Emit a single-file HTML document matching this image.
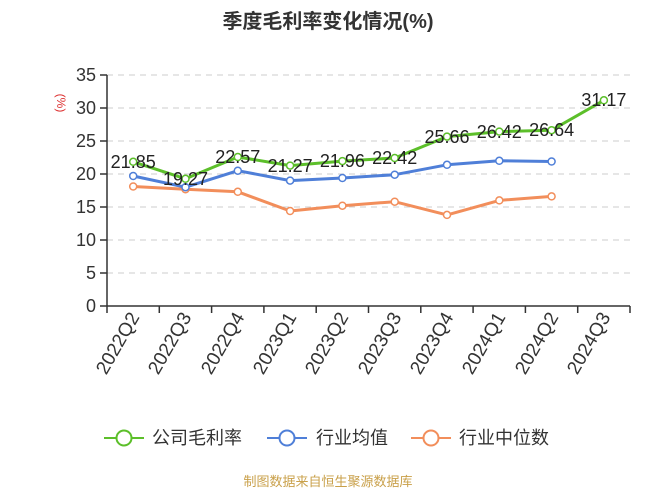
<!DOCTYPE html>
<html><head><meta charset="utf-8"><style>
body{margin:0;background:#fff;}
svg{display:block;font-family:"Liberation Sans","Noto Sans CJK SC",sans-serif;}
</style></head><body>
<svg width="657" height="491" viewBox="0 0 657 491" xmlns="http://www.w3.org/2000/svg">
<text x="328" y="28" text-anchor="middle" font-size="20" font-weight="bold" fill="#333">季度毛利率变化情况(%)</text>
<text x="57" y="103" font-size="12" fill="#d33" transform="rotate(90 57 103)" text-anchor="middle">(%)</text>
<g stroke="#ccc" stroke-dasharray="6,5" stroke-width="1">
<line x1="107" x2="630" y1="273" y2="273"/><line x1="107" x2="630" y1="240" y2="240"/><line x1="107" x2="630" y1="207" y2="207"/><line x1="107" x2="630" y1="174" y2="174"/><line x1="107" x2="630" y1="141" y2="141"/><line x1="107" x2="630" y1="108" y2="108"/><line x1="107" x2="630" y1="75" y2="75"/>
</g>
<g stroke="#333" stroke-width="1.5">
<line x1="107" y1="75" x2="107" y2="306"/><line x1="107" y1="306" x2="630" y2="306"/>
<line x1="100" x2="107" y1="306" y2="306"/><line x1="100" x2="107" y1="273" y2="273"/><line x1="100" x2="107" y1="240" y2="240"/><line x1="100" x2="107" y1="207" y2="207"/><line x1="100" x2="107" y1="174" y2="174"/><line x1="100" x2="107" y1="141" y2="141"/><line x1="100" x2="107" y1="108" y2="108"/><line x1="100" x2="107" y1="75" y2="75"/>
<line x1="107" x2="107" y1="306" y2="313"/><line x1="159.3" x2="159.3" y1="306" y2="313"/><line x1="211.6" x2="211.6" y1="306" y2="313"/><line x1="263.9" x2="263.9" y1="306" y2="313"/><line x1="316.2" x2="316.2" y1="306" y2="313"/><line x1="368.5" x2="368.5" y1="306" y2="313"/><line x1="420.8" x2="420.8" y1="306" y2="313"/><line x1="473.1" x2="473.1" y1="306" y2="313"/><line x1="525.4" x2="525.4" y1="306" y2="313"/><line x1="577.7" x2="577.7" y1="306" y2="313"/><line x1="630" x2="630" y1="306" y2="313"/>
</g>
<g font-size="18" fill="#333" text-anchor="end">
<text x="96" y="312">0</text><text x="96" y="279">5</text><text x="96" y="246">10</text><text x="96" y="213">15</text><text x="96" y="180">20</text><text x="96" y="147">25</text><text x="96" y="114">30</text><text x="96" y="81">35</text>
</g>
<g font-size="19" fill="#333" text-anchor="end">
<text transform="translate(140 317) rotate(-60)">2022Q2</text>
<text transform="translate(192 317) rotate(-60)">2022Q3</text>
<text transform="translate(245 317) rotate(-60)">2022Q4</text>
<text transform="translate(297 317) rotate(-60)">2023Q1</text>
<text transform="translate(349 317) rotate(-60)">2023Q2</text>
<text transform="translate(402 317) rotate(-60)">2023Q3</text>
<text transform="translate(454 317) rotate(-60)">2023Q4</text>
<text transform="translate(506 317) rotate(-60)">2024Q1</text>
<text transform="translate(559 317) rotate(-60)">2024Q2</text>
<text transform="translate(611 317) rotate(-60)">2024Q3</text>
</g>
<g fill="none" stroke-width="3" stroke-linejoin="round">
<polyline stroke="#f28e5b" points="133.2,186.5 185.5,189.2 237.8,191.8 290.1,211 342.4,205.7 394.7,201.7 447,214.9 499.3,200.4 551.6,196.4"/>
<polyline stroke="#4f7fd8" points="133.2,176 185.5,187.2 237.8,170.7 290.1,180.6 342.4,178 394.7,174.7 447,164.8 499.3,160.8 551.6,161.5"/>
<polyline stroke="#5cbf2a" points="133.2,161.8 185.5,178.8 237.8,157 290.1,165.6 342.4,161.1 394.7,158 447,136.6 499.3,131.6 551.6,130.2 603.9,100.3"/>
</g>
<g fill="#fff" stroke-width="1.5">
<g stroke="#f28e5b"><circle cx="133.2" cy="186.5" r="3.5"/><circle cx="185.5" cy="189.2" r="3.5"/><circle cx="237.8" cy="191.8" r="3.5"/><circle cx="290.1" cy="211" r="3.5"/><circle cx="342.4" cy="205.7" r="3.5"/><circle cx="394.7" cy="201.7" r="3.5"/><circle cx="447" cy="214.9" r="3.5"/><circle cx="499.3" cy="200.4" r="3.5"/><circle cx="551.6" cy="196.4" r="3.5"/></g>
<g stroke="#4f7fd8"><circle cx="133.2" cy="176" r="3.5"/><circle cx="185.5" cy="187.2" r="3.5"/><circle cx="237.8" cy="170.7" r="3.5"/><circle cx="290.1" cy="180.6" r="3.5"/><circle cx="342.4" cy="178" r="3.5"/><circle cx="394.7" cy="174.7" r="3.5"/><circle cx="447" cy="164.8" r="3.5"/><circle cx="499.3" cy="160.8" r="3.5"/><circle cx="551.6" cy="161.5" r="3.5"/></g>
<g stroke="#5cbf2a"><circle cx="133.2" cy="161.8" r="3.5"/><circle cx="185.5" cy="178.8" r="3.5"/><circle cx="237.8" cy="157" r="3.5"/><circle cx="290.1" cy="165.6" r="3.5"/><circle cx="342.4" cy="161.1" r="3.5"/><circle cx="394.7" cy="158" r="3.5"/><circle cx="447" cy="136.6" r="3.5"/><circle cx="499.3" cy="131.6" r="3.5"/><circle cx="551.6" cy="130.2" r="3.5"/><circle cx="603.9" cy="100.3" r="3.5"/></g>
</g>
<g font-size="18" fill="#222" text-anchor="middle">
<text x="133.2" y="168">21.85</text><text x="185.5" y="185">19.27</text><text x="237.8" y="163">22.57</text><text x="290.1" y="172">21.27</text><text x="342.4" y="167">21.96</text><text x="394.7" y="164">22.42</text><text x="447" y="143">25.66</text><text x="499.3" y="138">26.42</text><text x="551.6" y="136">26.64</text><text x="603.9" y="106">31.17</text>
</g>
<g stroke-width="2" fill="#fff">
<line x1="104" x2="144" y1="438" y2="438" stroke="#5cbf2a"/><circle cx="124" cy="438" r="7.5" stroke="#5cbf2a"/>
<line x1="267" x2="307" y1="438" y2="438" stroke="#4f7fd8"/><circle cx="287" cy="438" r="7.5" stroke="#4f7fd8"/>
<line x1="411" x2="451" y1="438" y2="438" stroke="#f28e5b"/><circle cx="431" cy="438" r="7.5" stroke="#f28e5b"/>
</g>
<g font-size="18" fill="#333">
<text x="152" y="444">公司毛利率</text><text x="316" y="444">行业均值</text><text x="459" y="444">行业中位数</text>
</g>
<text x="328" y="486" text-anchor="middle" font-size="13" fill="#c9a04a">制图数据来自恒生聚源数据库</text>
</svg>
</body></html>
